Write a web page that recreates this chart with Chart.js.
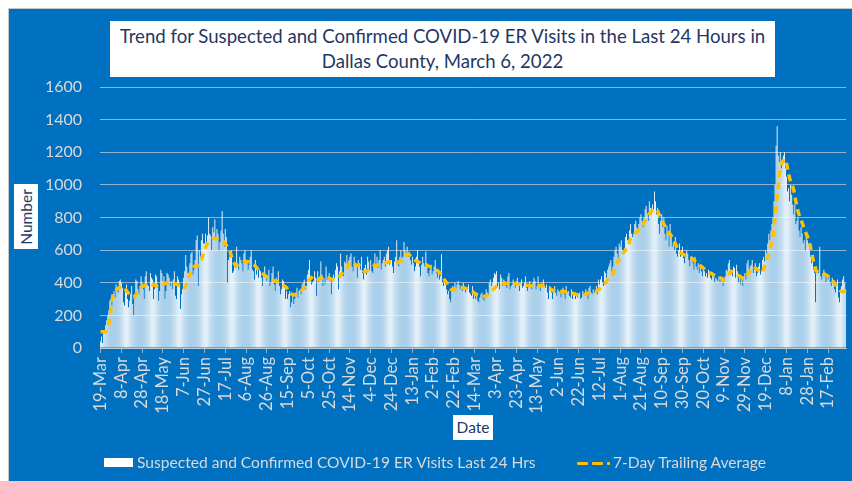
<!DOCTYPE html>
<html>
<head>
<meta charset="utf-8">
<script src="https://cdn.jsdelivr.net/npm/chart.js@4/dist/chart.umd.min.js"></script>
<style>
    body { margin: 0; width: 852px; height: 481px; overflow: hidden; position: relative; background: #fff; font-family: Lato, sans-serif; }
    #panel { position: absolute; left: 8px; top: 8px; right: 0; bottom: 0; background: #0070c0; border-left: 1px solid #c8c8c8; border-top: 1px solid #c8c8c8; }
    #chart { position: absolute; left: 0; top: 0; }
    .box { position: absolute; background: #fff; color: #1f3864; }
    #title { left: 110px; top: 21px; width: 665px; height: 56px; text-align: center; font-size: 18.6px; line-height: 25px; padding-top: 3px; box-sizing: border-box; white-space: nowrap; }
    #ytitle { left: 14px; top: 184px; width: 24px; height: 65px; }
    #ytitle span { position: absolute; left: 50%; top: 50%; transform: translate(-50%, -50%) rotate(-90deg); font-size: 15.5px; white-space: nowrap; }
    #xtitle { left: 453px; top: 415px; width: 40px; height: 25px; font-size: 15.5px; line-height: 25px; text-align: center; }
    .leg { position: absolute; top: 453px; font-size: 15.6px; line-height: 19px; color: #d9d9d9; white-space: nowrap; }
    .sw { position: absolute; }
</style>
</head>
<body>
<div id="panel"></div>
<canvas id="chart" width="852" height="481"></canvas>
<div class="box" id="title">Trend for Suspected and Confirmed COVID-19 ER Visits in the Last 24 Hours in<br>Dallas County, March 6, 2022</div>
<div class="box" id="ytitle"><span>Number</span></div>
<div class="box" id="xtitle">Date</div>
<div class="sw" style="left:104px;top:458px;width:29px;height:9px;background:#fff"></div>
<div class="leg" style="left:137px">Suspected and Confirmed COVID-19 ER Visits Last 24 Hrs</div>
<div class="sw" style="left:577px;top:462px;width:11px;height:3px;background:#ffc000;border-radius:1px"></div>
<div class="sw" style="left:592px;top:462px;width:11px;height:3px;background:#ffc000;border-radius:1px"></div>
<div class="sw" style="left:607px;top:462px;width:3px;height:3px;background:#ffc000;border-radius:1px"></div>
<div class="leg" style="left:613px">7-Day Trailing Average</div>
<script>
// daily ER visits, 19-Mar-2020 .. 6-Mar-2022 (20 days per row)
var erVisits = [
    40,70,30,90,110,140,170,200,230,290,300,260,330,350,310,390,370,340,410,420,
    400,370,280,260,350,390,300,250,290,330,380,270,200,300,420,410,360,330,380,440,
    400,360,300,440,470,390,380,350,460,430,420,300,360,450,440,390,290,350,480,460,
    410,440,300,350,460,450,430,380,410,360,420,470,320,300,440,420,390,240,330,360,
    430,470,570,500,460,440,520,580,590,450,480,540,660,690,380,600,560,660,700,640,
    640,700,620,690,800,700,690,600,740,710,790,680,730,700,600,650,720,840,700,620,
    730,680,400,540,560,560,600,460,470,500,490,620,510,480,560,540,520,470,580,600,
    520,540,480,510,560,600,480,470,420,540,450,500,430,480,470,430,380,460,500,440,
    410,440,480,380,400,460,500,390,350,430,400,470,380,330,360,420,410,380,300,350,
    300,330,350,250,280,320,270,300,340,370,310,350,360,330,390,400,420,360,380,450,
    480,540,430,390,400,410,470,430,320,470,400,440,530,450,380,430,390,500,420,440,
    460,410,330,420,450,430,480,520,500,360,470,580,500,460,440,530,520,570,490,540,
    560,580,500,470,560,520,500,430,540,520,480,560,460,420,490,510,450,560,530,480,
    540,470,460,520,580,500,560,490,540,600,480,520,540,560,500,580,600,620,510,540,
    540,500,460,530,560,660,520,500,560,600,550,560,650,600,580,620,560,590,540,510,
    560,520,470,500,560,600,540,500,440,510,560,520,500,590,520,460,440,480,510,450,
    470,500,540,460,430,480,420,440,575,400,380,420,390,360,330,350,300,280,360,380,
    370,400,360,390,410,390,360,380,350,400,380,340,370,360,390,340,330,320,380,300,
    330,300,340,290,280,310,330,340,300,290,330,360,340,320,400,420,380,400,430,460,
    450,470,380,400,360,450,430,380,420,410,380,370,440,460,360,380,390,420,400,370,
    410,430,380,350,400,420,370,380,400,440,370,350,390,410,380,360,400,430,410,360,
    380,440,390,350,400,380,420,380,370,390,340,300,380,360,340,300,350,380,340,320,
    360,350,340,310,360,370,330,300,380,340,350,320,310,360,300,340,330,300,320,310,
    330,340,300,310,350,330,320,360,340,300,370,380,340,330,360,340,350,380,330,420,
    390,420,440,400,380,470,460,430,480,500,520,540,470,500,560,600,620,580,540,640,
    620,660,600,580,610,680,700,660,650,720,760,700,680,700,760,780,740,720,760,800,
    820,780,740,800,850,870,820,780,900,860,820,880,850,960,900,820,860,760,700,780,
    820,740,800,700,660,750,700,620,760,700,620,640,600,680,580,560,600,640,560,600,
    620,550,520,560,600,580,540,500,560,540,520,480,560,500,480,520,460,500,470,440,
    500,470,440,460,430,480,450,430,420,460,440,400,430,420,410,440,400,430,410,380,
    410,440,480,470,520,540,480,460,440,500,490,430,510,470,400,440,390,420,380,440,
    460,420,520,540,480,500,510,540,460,480,520,440,460,500,520,450,470,540,560,530,
    600,580,640,700,660,720,760,800,900,1000,1240,1360,1180,1140,1200,1100,1150,1180,1200,1100,
    1050,960,980,900,1000,940,880,820,880,760,780,800,720,680,740,700,640,660,600,700,
    660,640,600,560,520,540,480,460,280,500,480,460,620,440,420,460,480,440,400,440,
    420,440,400,380,430,400,360,340,380,420,310,280,360,380,420,440,400,360
];

// 7-day trailing average, same days
var avgValues = [
    100,100,100,100,100,100,115,130,150,190,233,280,325,335,345,355,360,366,370,375,
    380,378,376,368,360,350,342,335,328,320,315,313,312,318,325,335,345,355,366,372,
    376,380,382,384,386,388,390,391,392,390,388,386,384,382,380,378,377,376,376,380,
    388,392,396,398,400,402,402,402,402,400,398,397,395,392,389,386,380,375,370,365,
    360,370,380,400,418,437,455,472,490,495,500,501,502,502,503,515,528,540,560,580,
    600,615,631,640,648,655,660,665,669,672,672,671,671,670,668,666,664,662,655,648,
    640,630,620,611,600,585,560,545,529,515,505,508,512,516,519,522,525,528,530,530,
    530,530,529,529,529,525,520,515,510,502,494,486,478,472,466,460,455,450,446,441,
    437,433,429,425,421,417,415,413,411,410,408,406,405,400,395,390,385,380,375,370,
    355,345,340,335,330,328,325,326,328,330,335,340,345,350,356,365,375,390,400,408,
    413,417,425,432,440,437,432,427,425,422,420,424,428,430,434,437,436,434,432,430,
    428,425,422,420,418,417,420,423,425,432,440,447,455,463,470,476,482,488,500,515,
    525,529,526,522,518,512,509,506,509,504,497,490,482,475,468,470,472,475,480,488,
    492,496,500,502,504,505,507,509,511,513,515,517,518,520,522,524,526,528,529,528,
    527,526,525,524,523,523,525,528,530,533,539,545,555,562,570,574,576,572,566,560,
    550,545,540,537,533,530,527,524,521,518,515,512,510,509,507,504,501,498,495,492,
    488,484,480,478,474,470,464,458,450,440,427,417,408,400,388,376,366,360,358,356,
    358,362,366,370,373,376,376,374,372,370,368,366,364,362,360,357,354,350,346,340,
    335,330,328,324,320,319,318,316,315,315,315,318,322,328,335,340,348,354,360,366,
    372,378,382,386,389,392,394,396,396,396,396,396,396,396,396,396,395,395,394,394,
    393,392,391,390,389,388,387,386,385,384,384,383,383,382,382,381,381,380,380,380,
    380,381,381,382,382,382,381,381,380,378,374,370,368,362,358,354,350,349,348,347,
    346,346,345,345,345,345,345,345,345,345,345,343,340,338,336,335,333,330,328,326,
    325,325,326,327,328,329,330,332,334,336,338,340,341,342,343,344,345,348,352,356,
    360,368,376,382,390,395,400,410,420,430,437,437,440,455,475,490,505,521,533,545,
    555,565,575,585,590,600,610,620,630,652,674,680,688,694,700,706,712,718,724,730,
    734,745,757,770,783,795,805,815,824,830,838,845,850,856,852,846,840,825,810,795,
    785,772,760,748,735,723,715,705,697,690,680,670,652,640,625,610,600,592,585,580,
    577,574,570,567,565,563,561,558,555,550,545,540,533,526,525,518,512,505,499,495,
    490,485,480,474,469,464,460,458,456,452,448,444,440,437,434,432,430,428,427,416,
    418,422,428,435,445,455,465,470,466,462,458,455,450,446,443,441,436,430,425,427,
    429,436,445,455,460,470,480,490,499,495,490,485,480,475,468,462,459,470,485,500,
    520,540,560,583,606,630,656,682,743,805,866,928,984,1040,1101,1120,1140,1150,1160,1155,
    1130,1100,1072,1040,1020,1010,990,969,930,900,866,840,820,800,785,768,750,731,713,700,
    685,670,650,621,590,560,529,500,480,470,465,462,460,459,458,458,455,452,448,444,
    440,435,430,424,417,408,400,390,380,370,362,356,350,347,345,345,350,360
];

// one label every 20 days
var tickLabels = ['19-Mar','8-Apr','28-Apr','18-May','7-Jun','27-Jun','17-Jul','6-Aug','26-Aug','15-Sep',
    '5-Oct','25-Oct','14-Nov','4-Dec','24-Dec','13-Jan','2-Feb','22-Feb','14-Mar','3-Apr',
    '23-Apr','13-May','2-Jun','22-Jun','12-Jul','1-Aug','21-Aug','10-Sep','30-Sep','20-Oct',
    '9-Nov','29-Nov','19-Dec','8-Jan','28-Jan','17-Feb'];
var tickEvery = 20;

var monthNames = ['Jan','Feb','Mar','Apr','May','Jun','Jul','Aug','Sep','Oct','Nov','Dec'];
var startDay = Date.UTC(2020, 2, 19);
var dayLabels = erVisits.map(function(v, i) {
    var d = new Date(startDay + i * 86400000);
    return d.getUTCDate() + '-' + monthNames[d.getUTCMonth()];
});

var textColor = '#d9d9d9';
var gridColor = 'rgba(217,217,217,0.65)';
var ctx = document.getElementById('chart').getContext('2d');

var myChart = new Chart(ctx, {
    data: {
        labels: dayLabels,
        datasets: [{
            type: 'line',
            label: '7-Day Trailing Average',
            data: avgValues,
            borderColor: '#ffc000',
            borderWidth: 3.5,
            borderDash: [7, 5],
            pointRadius: 0,
            tension: 0,
            order: 0
        }, {
            type: 'bar',
            label: 'Suspected and Confirmed COVID-19 ER Visits Last 24 Hrs',
            data: erVisits,
            backgroundColor: '#ffffff',
            barPercentage: 1,
            categoryPercentage: 0.85,
            inflateAmount: 0,
            order: 1
        }]
    },
    options: {
        responsive: false,
        animation: false,
        events: [],
        layout: { padding: { left: 0, right: 5, top: 87, bottom: 0 } },
        plugins: {
            legend: { display: false },
            title: { display: false },
            tooltip: { enabled: false }
        },
        scales: {
            x: {
                offset: true,
                grid: { display: true, drawOnChartArea: false, offset: false, tickLength: 5, tickColor: gridColor },
                border: { color: gridColor },
                ticks: {
                    autoSkip: false, minRotation: 90, maxRotation: 90, padding: 4,
                    color: textColor, font: { family: 'Lato', size: 16.5 },
                    callback: function(value) { return tickLabels[value / tickEvery]; }
                },
                afterBuildTicks: function(scale) {
                    scale.ticks = scale.ticks.filter(function(t) { return t.value % tickEvery === 0; });
                },
                afterFit: function(scale) { scale.height = 133; }
            },
            y: {
                min: 0, max: 1600,
                ticks: {
                    stepSize: 200, padding: 18, color: textColor, font: { family: 'Lato', size: 16 },
                    callback: function(value) { return String(value); }
                },
                grid: { color: gridColor, drawTicks: false },
                border: { display: false },
                afterFit: function(scale) { scale.width = 100; }
            }
        }
    }
});
</script>
</body>
</html>
